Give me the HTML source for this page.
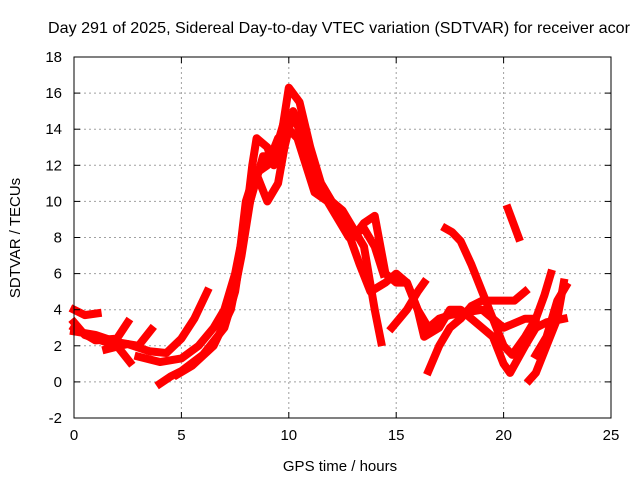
<!DOCTYPE html>
<html><head><meta charset="utf-8"><style>
body{margin:0;background:#fff;}
svg{display:block;font-family:"Liberation Sans",sans-serif;}
</style></head><body>
<svg id="chart" width="640" height="480">
<text x="339" y="33" text-anchor="middle" font-size="16" textLength="582" lengthAdjust="spacingAndGlyphs">Day 291 of 2025, Sidereal Day-to-day VTEC variation (SDTVAR) for receiver acor</text>
<text x="340" y="471" text-anchor="middle" font-size="15">GPS time / hours</text>
<text transform="translate(20,238) rotate(-90)" text-anchor="middle" font-size="15">SDTVAR / TECUs</text>
<g id="grid"></g><g id="series"></g><g id="axes"></g>
</svg>
<script>
const xTicks=[0,5,10,15,20,25];
const yTicks=[-2,0,2,4,6,8,10,12,14,16,18];
const trackA=[[0,4.0],[0.5,3.7],[1.1,3.8]];
const trackB=[[0,3.3],[0.5,2.6],[1,2.4],[2,2.0],[2.6,1.1]];
const trackC=[[0,2.8],[1,2.6],[2,2.2],[3,2.0],[3.6,2.9]];
const trackD=[[0,3.0],[1,2.3],[2,2.4],[2.5,3.3]];
const trackE=[[1.5,1.8],[2.5,2.1],[3.5,1.7],[4.3,1.6],[5,2.4],[5.6,3.5],[6,4.5],[6.2,5.0]];
const trackF=[[3,1.4],[4,1.1],[5,1.3],[5.8,2],[6.5,3],[7,4],[7.5,6],[8,9],[8.3,12],[8.5,13.5],[9,13],[9.3,12],[9.7,14],[10,16.3],[10.5,15.5],[11,13],[11.5,11],[12,10],[12.5,9.5],[13,8.5],[13.5,7.5],[14,4],[14.3,2.2]];
const trackG=[[4,-0.1],[4.5,0.3],[5,0.6],[6,1.5],[7,3],[7.5,5],[8,9],[8.5,11.5],[9,10],[9.5,11],[9.8,13],[10.2,15],[10.6,14],[11,12],[11.5,10.5],[12,10],[12.5,9],[13,8],[13.5,8.8],[14,9.2],[14.5,6],[15,5.5],[15.5,5.5],[16,4],[16.5,3],[17,3.5],[17.5,3.7],[18,3.8],[19,4],[19.5,3.5],[20,3],[21,3.5],[21.5,3.5]];
const trackH=[[4.8,0.4],[5.5,0.9],[6.5,2],[7.3,4],[7.8,7],[8.2,10],[8.8,12.5],[9.3,12.5],[9.8,14.5],[10.3,14.5],[11,12.5],[11.5,11],[12,10],[12.7,8.5],[13.3,6.5],[13.8,5],[14.5,5.5],[15,6],[15.5,5.5],[16,4],[16.3,2.5],[17,3],[17.5,4],[18,4],[18.5,3.5],[19,3],[19.5,2.5],[20,1],[20.3,0.5],[21,2],[21.5,3]];
const trackQ=[[7.6,6],[8,10],[8.4,11.5],[9,12],[9.5,13.5],[10,14],[10.4,13.5],[10.8,12],[11.2,10.5],[11.8,10],[12.3,9],[12.8,8],[13.5,8.5],[14,7.5],[14.4,6]];
const trackI=[[14.8,3],[15.5,4],[16,5],[16.3,5.5]];
const trackJ=[[16.5,0.6],[17,2],[17.5,3],[18,3.5],[18.5,4.2],[19,4.5],[20,4.5],[20.5,4.5],[21,5]];
const trackK=[[17.3,8.5],[17.6,8.3],[18,7.8],[18.5,6.5],[19,5],[19.5,3.5],[20,2],[20.4,1.5],[21,2.5],[21.4,3.3]];
const trackL=[[20.2,9.6],[20.7,8]];
const trackM=[[21.2,0.1],[21.5,0.5],[22,2],[22.5,3.5],[22.8,5.5]];
const trackN=[[21.5,1.5],[22,2.5],[22.5,4.5],[22.9,5.3]];
const trackO=[[20.5,1.6],[21,2.2],[21.5,3],[22,3.3],[22.8,3.5]];
const trackP=[[21.5,3.5],[21.9,4.8],[22.2,6.0]];
const tracks=[trackA,trackB,trackC,trackD,trackE,trackF,trackG,trackH,trackQ,trackI,trackJ,trackK,trackL,trackM,trackN,trackO,trackP];
const X0=74,X1=611,Y0=418,Y1=57;
const xs=v=>X0+(v-0)/25*(X1-X0);
const ys=v=>Y0-(v+2)/20*(Y0-Y1);
const NS="http://www.w3.org/2000/svg";
const grid=document.getElementById('grid'),axes=document.getElementById('axes'),ser=document.getElementById('series');
function mk(tag,attrs,parent){const e=document.createElementNS(NS,tag);for(const k in attrs)e.setAttribute(k,attrs[k]);parent.appendChild(e);return e;}
xTicks.forEach(t=>{
  const x=xs(t);
  if(t>0&&t<25){const g=mk('line',{x1:x,x2:x,y1:Y1,y2:Y0,stroke:'#a0a0a0','stroke-dasharray':'2,3'},grid);
  
  }
  const l=mk('text',{x:x,y:Y0+22,'text-anchor':'middle','font-size':'15'},axes);l.textContent=t;
  
  
  mk('line',{x1:x,x2:x,y1:Y0,y2:Y0-6,stroke:'#000'},axes);
  mk('line',{x1:x,x2:x,y1:Y1,y2:Y1+6,stroke:'#000'},axes);
});
yTicks.forEach(t=>{
  const y=ys(t);
  if(t>-2&&t<18){const g=mk('line',{x1:X0,x2:X1,y1:y,y2:y,stroke:'#a0a0a0','stroke-dasharray':'2,3'},grid);
  
  }
  const l=mk('text',{x:X0-12,y:y+5,'text-anchor':'end','font-size':'15'},axes);l.textContent=t;
  
  
  mk('line',{x1:X0,x2:X0+6,y1:y,y2:y,stroke:'#000'},axes);
  mk('line',{x1:X1,x2:X1-6,y1:y,y2:y,stroke:'#000'},axes);
});
const fr=mk('rect',{x:X0,y:Y1,width:X1-X0,height:Y0-Y1,fill:'none',stroke:'#000'},axes);


tracks.forEach(tr=>{
  const p=mk('polyline',{points:tr.map(d=>xs(d[0])+','+ys(d[1])).join(' '),fill:'none',stroke:'#ff0000','stroke-width':'8','stroke-linejoin':'round','stroke-linecap':'square'},ser);
  
  
});
</script>
</body></html>
